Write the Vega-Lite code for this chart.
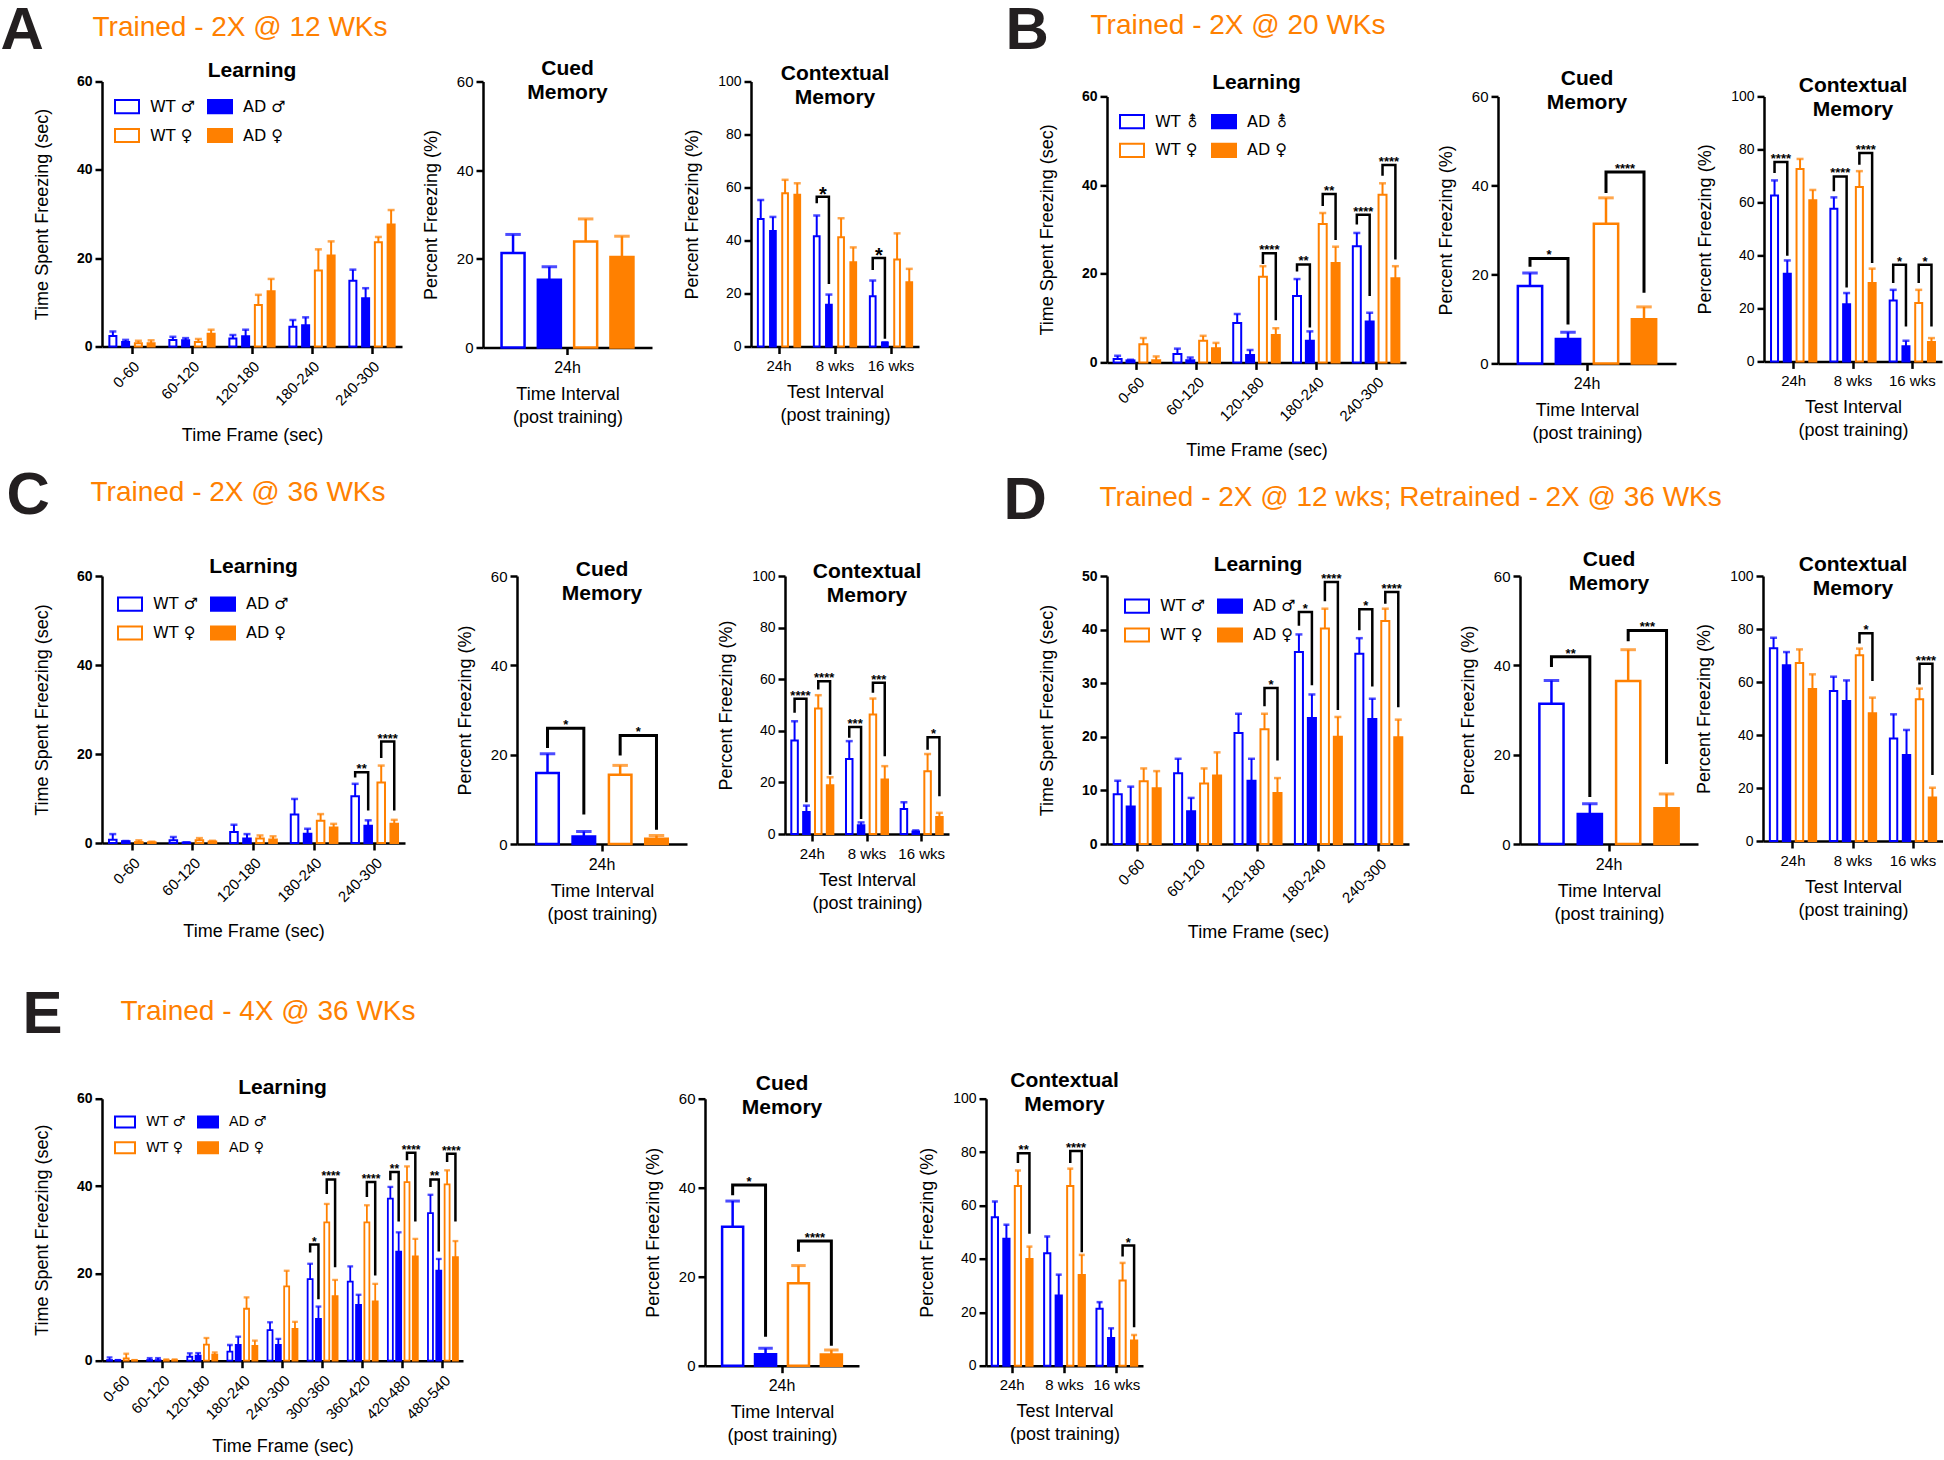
{
"$schema":"https://vega.github.io/schema/vega-lite/v6.json",
"padding":{"left":0,"top":0,"right":0,"bottom":0},
"background":"white",
"datasets":{
"aL":[{"f":"0-60","g":"WTm","v":2.4,"e":3.4},{"f":"0-60","g":"ADm","v":1.0,"e":1.5},{"f":"0-60","g":"WTf","v":0.75,"e":1.3},{"f":"0-60","g":"ADf","v":0.75,"e":1.4},
{"f":"60-120","g":"WTm","v":1.5,"e":2.2},{"f":"60-120","g":"ADm","v":1.4,"e":1.9},{"f":"60-120","g":"WTf","v":1.0,"e":1.7},{"f":"60-120","g":"ADf","v":2.9,"e":3.8},
{"f":"120-180","g":"WTm","v":1.8,"e":2.6},{"f":"120-180","g":"ADm","v":2.3,"e":3.8},{"f":"120-180","g":"WTf","v":9.4,"e":11.7},{"f":"120-180","g":"ADf","v":12.5,"e":15.3},
{"f":"180-240","g":"WTm","v":4.5,"e":6.0},{"f":"180-240","g":"ADm","v":4.8,"e":6.6},{"f":"180-240","g":"WTf","v":17.2,"e":22.0},{"f":"180-240","g":"ADf","v":20.6,"e":23.8},
{"f":"240-300","g":"WTm","v":14.9,"e":17.4},{"f":"240-300","g":"ADm","v":10.9,"e":13.2},{"f":"240-300","g":"WTf","v":23.6,"e":24.8},{"f":"240-300","g":"ADf","v":27.6,"e":30.9}],
"aC":[{"f":"24h","g":"WTm","v":21.3,"e":25.5},{"f":"24h","g":"ADm","v":15.3,"e":18.2},{"f":"24h","g":"WTf","v":23.9,"e":29.0},{"f":"24h","g":"ADf","v":20.4,"e":25.1}],
"aX":[{"f":"24h","g":"WTm","v":48.1,"e":55.3},{"f":"24h","g":"ADm","v":43.6,"e":48.9},{"f":"24h","g":"WTf","v":57.8,"e":62.9},{"f":"24h","g":"ADf","v":57.3,"e":61.6},
{"f":"8 wks","g":"WTm","v":41.6,"e":49.4},{"f":"8 wks","g":"ADm","v":15.8,"e":19.6},{"f":"8 wks","g":"WTf","v":41.2,"e":48.4},{"f":"8 wks","g":"ADf","v":31.8,"e":37.4},
{"f":"16 wks","g":"WTm","v":19.0,"e":24.9},{"f":"16 wks","g":"ADm","v":1.4,"e":1.6},{"f":"16 wks","g":"WTf","v":32.8,"e":42.7},{"f":"16 wks","g":"ADf","v":24.2,"e":29.3}],
"aXb":[{"f":"8 wks","gw":"WTm","g":["WTm","WTm","ADm","ADm"],"y":[54.1,56.5,56.5,23.6],"o":[0,1,2,3],"t":"*","top":56.5},
{"f":"16 wks","gw":"WTm","g":["WTm","WTm","ADm","ADm"],"y":[28.9,33.4,33.4,2.9],"o":[0,1,2,3],"t":"*","top":33.4}],
"bL":[{"f":"0-60","g":"WTm","v":0.75,"e":1.5},{"f":"0-60","g":"ADm","v":0.45,"e":0.6},{"f":"0-60","g":"WTf","v":4.1,"e":5.5},{"f":"0-60","g":"ADf","v":0.5,"e":1.35},
{"f":"60-120","g":"WTm","v":1.9,"e":3.1},{"f":"60-120","g":"ADm","v":0.5,"e":1.1},{"f":"60-120","g":"WTf","v":4.9,"e":6.0},{"f":"60-120","g":"ADf","v":3.2,"e":4.4},
{"f":"120-180","g":"WTm","v":8.9,"e":10.9},{"f":"120-180","g":"ADm","v":1.65,"e":2.8},{"f":"120-180","g":"WTf","v":19.3,"e":21.7},{"f":"120-180","g":"ADf","v":6.2,"e":7.7},
{"f":"180-240","g":"WTm","v":15.0,"e":18.8},{"f":"180-240","g":"ADm","v":4.9,"e":7.0},{"f":"180-240","g":"WTf","v":31.2,"e":33.7},{"f":"180-240","g":"ADf","v":22.4,"e":26.1},
{"f":"240-300","g":"WTm","v":26.2,"e":29.2},{"f":"240-300","g":"ADm","v":9.2,"e":11.2},{"f":"240-300","g":"WTf","v":37.8,"e":40.4},{"f":"240-300","g":"ADf","v":19.0,"e":21.7}],
"bLb":[{"f":"120-180","gw":"WTf","g":["WTf","WTf","ADf","ADf"],"y":[22.2,24.6,24.6,9.5],"o":[0,1,2,3],"t":"****","top":24.6},
{"f":"180-240","gw":"WTm","g":["WTm","WTm","ADm","ADm"],"y":[20.5,22.1,22.1,7.9],"o":[0,1,2,3],"t":"**","top":22.1},
{"f":"180-240","gw":"WTf","g":["WTf","WTf","ADf","ADf"],"y":[35.3,38.0,38.0,27.6],"o":[0,1,2,3],"t":"**","top":38.0},
{"f":"240-300","gw":"WTm","g":["WTm","WTm","ADm","ADm"],"y":[31.1,33.3,33.3,15.0],"o":[0,1,2,3],"t":"****","top":33.3},
{"f":"240-300","gw":"WTf","g":["WTf","WTf","ADf","ADf"],"y":[42.1,44.5,44.5,23.2],"o":[0,1,2,3],"t":"****","top":44.5}],
"bC":[{"f":"24h","g":"WTm","v":17.4,"e":20.3},{"f":"24h","g":"ADm","v":5.5,"e":7.0},{"f":"24h","g":"WTf","v":31.4,"e":37.2},{"f":"24h","g":"ADf","v":9.9,"e":12.7}],
"bCb":[{"f":"24h","gw":"WTm","g":["WTm","WTm","ADm","ADm"],"y":[21.7,23.6,23.6,8.75],"o":[0,1,2,3],"t":"*","top":23.6},
{"f":"24h","gw":"WTf","g":["WTf","WTf","ADf","ADf"],"y":[38.3,43.0,43.0,15.9],"o":[0,1,2,3],"t":"****","top":43.0}],
"bX":[{"f":"24h","g":"WTm","v":62.6,"e":68.3},{"f":"24h","g":"ADm","v":33.1,"e":38.1},{"f":"24h","g":"WTf","v":72.6,"e":76.4},{"f":"24h","g":"ADf","v":60.8,"e":64.7},
{"f":"8 wks","g":"WTm","v":57.6,"e":61.9},{"f":"8 wks","g":"ADm","v":21.6,"e":25.8},{"f":"8 wks","g":"WTf","v":65.8,"e":71.8},{"f":"8 wks","g":"ADf","v":29.6,"e":35.0},
{"f":"16 wks","g":"WTm","v":23.0,"e":27.0},{"f":"16 wks","g":"ADm","v":5.7,"e":7.8},{"f":"16 wks","g":"WTf","v":22.0,"e":27.0},{"f":"16 wks","g":"ADf","v":7.3,"e":8.8}],
"bXb":[{"f":"24h","gw":"WTm","g":["WTm","WTm","ADm","ADm"],"y":[71.1,75.2,75.2,39.9],"o":[0,1,2,3],"t":"****","top":75.2},
{"f":"8 wks","gw":"WTm","g":["WTm","WTm","ADm","ADm"],"y":[64.2,69.8,69.8,27.9],"o":[0,1,2,3],"t":"****","top":69.8},
{"f":"8 wks","gw":"WTf","g":["WTf","WTf","ADf","ADf"],"y":[74.2,78.6,78.6,37.1],"o":[0,1,2,3],"t":"****","top":78.6},
{"f":"16 wks","gw":"WTm","g":["WTm","WTm","ADm","ADm"],"y":[29.6,36.5,36.5,13.2],"o":[0,1,2,3],"t":"*","top":36.5},
{"f":"16 wks","gw":"WTf","g":["WTf","WTf","ADf","ADf"],"y":[29.6,36.5,36.5,13.2],"o":[0,1,2,3],"t":"*","top":36.5}],
"cL":[{"f":"0-60","g":"WTm","v":0.75,"e":2.0},{"f":"0-60","g":"ADm","v":0.4,"e":0.45},{"f":"0-60","g":"WTf","v":0.2,"e":0.6},{"f":"0-60","g":"ADf","v":0.15,"e":0.3},
{"f":"60-120","g":"WTm","v":0.6,"e":1.35},{"f":"60-120","g":"ADm","v":0.1,"e":0.15},{"f":"60-120","g":"WTf","v":0.6,"e":1.1},{"f":"60-120","g":"ADf","v":0.35,"e":0.5},
{"f":"120-180","g":"WTm","v":2.5,"e":4.1},{"f":"120-180","g":"ADm","v":1.0,"e":2.0},{"f":"120-180","g":"WTf","v":1.0,"e":1.7},{"f":"120-180","g":"ADf","v":0.8,"e":1.5},
{"f":"180-240","g":"WTm","v":6.4,"e":9.9},{"f":"180-240","g":"ADm","v":2.1,"e":3.2},{"f":"180-240","g":"WTf","v":5.0,"e":6.5},{"f":"180-240","g":"ADf","v":3.5,"e":4.3},
{"f":"240-300","g":"WTm","v":10.5,"e":13.3},{"f":"240-300","g":"ADm","v":3.9,"e":5.1},{"f":"240-300","g":"WTf","v":13.6,"e":17.4},{"f":"240-300","g":"ADf","v":4.3,"e":5.2}],
"cLb":[{"f":"240-300","gw":"WTm","g":["WTm","WTm","ADm","ADm"],"y":[14.7,15.9,15.9,7.3],"o":[0,1,2,3],"t":"**","top":15.9},
{"f":"240-300","gw":"WTf","g":["WTf","WTf","ADf","ADf"],"y":[19.1,22.8,22.8,7.3],"o":[0,1,2,3],"t":"****","top":22.8}],
"cC":[{"f":"24h","g":"WTm","v":15.9,"e":20.2},{"f":"24h","g":"ADm","v":1.7,"e":2.8},{"f":"24h","g":"WTf","v":15.5,"e":17.6},{"f":"24h","g":"ADf","v":1.2,"e":1.9}],
"cCb":[{"f":"24h","gw":"WTm","g":["WTm","WTm","ADm","ADm"],"y":[21.5,25.9,25.9,6.6],"o":[0,1,2,3],"t":"*","top":25.9},
{"f":"24h","gw":"WTf","g":["WTf","WTf","ADf","ADf"],"y":[19.8,24.3,24.3,3.2],"o":[0,1,2,3],"t":"*","top":24.3}],
"cX":[{"f":"24h","g":"WTm","v":36.2,"e":43.7},{"f":"24h","g":"ADm","v":8.5,"e":11.0},{"f":"24h","g":"WTf","v":48.6,"e":53.8},{"f":"24h","g":"ADf","v":18.9,"e":22.0},
{"f":"8 wks","g":"WTm","v":29.1,"e":36.0},{"f":"8 wks","g":"ADm","v":3.4,"e":4.5},{"f":"8 wks","g":"WTf","v":46.3,"e":52.5},{"f":"8 wks","g":"ADf","v":21.1,"e":26.3},
{"f":"16 wks","g":"WTm","v":9.7,"e":12.3},{"f":"16 wks","g":"ADm","v":1.0,"e":1.4},{"f":"16 wks","g":"WTf","v":24.3,"e":31.0},{"f":"16 wks","g":"ADf","v":6.6,"e":8.2}],
"cXb":[{"f":"24h","gw":"WTm","g":["WTm","WTm","ADm","ADm"],"y":[47.0,52.4,52.4,12.3],"o":[0,1,2,3],"t":"****","top":52.4},
{"f":"24h","gw":"WTf","g":["WTf","WTf","ADf","ADf"],"y":[56.0,59.2,59.2,23.0],"o":[0,1,2,3],"t":"****","top":59.2},
{"f":"8 wks","gw":"WTm","g":["WTm","WTm","ADm","ADm"],"y":[37.3,41.5,41.5,5.8],"o":[0,1,2,3],"t":"***","top":41.5},
{"f":"8 wks","gw":"WTf","g":["WTf","WTf","ADf","ADf"],"y":[54.7,58.6,58.6,30.1],"o":[0,1,2,3],"t":"***","top":58.6},
{"f":"16 wks","gw":"WTf","g":["WTf","WTf","ADf","ADf"],"y":[32.7,37.5,37.5,14.6],"o":[0,1,2,3],"t":"*","top":37.5}],
"dL":[{"f":"0-60","g":"WTm","v":9.3,"e":11.8},{"f":"0-60","g":"ADm","v":7.0,"e":10.7},{"f":"0-60","g":"WTf","v":11.7,"e":14.1},{"f":"0-60","g":"ADf","v":10.4,"e":13.6},
{"f":"60-120","g":"WTm","v":13.2,"e":15.9},{"f":"60-120","g":"ADm","v":6.1,"e":8.6},{"f":"60-120","g":"WTf","v":11.3,"e":14.1},{"f":"60-120","g":"ADf","v":12.8,"e":17.1},
{"f":"120-180","g":"WTm","v":20.7,"e":24.3},{"f":"120-180","g":"ADm","v":11.8,"e":15.9},{"f":"120-180","g":"WTf","v":21.4,"e":24.3},{"f":"120-180","g":"ADf","v":9.5,"e":12.3},
{"f":"180-240","g":"WTm","v":35.8,"e":39.1},{"f":"180-240","g":"ADm","v":23.5,"e":27.9},{"f":"180-240","g":"WTf","v":40.2,"e":43.9},{"f":"180-240","g":"ADf","v":20.0,"e":23.7},
{"f":"240-300","g":"WTm","v":35.5,"e":38.4},{"f":"240-300","g":"ADm","v":23.3,"e":27.1},{"f":"240-300","g":"WTf","v":41.6,"e":43.9},{"f":"240-300","g":"ADf","v":19.9,"e":23.2}],
"dLb":[{"f":"120-180","gw":"WTf","g":["WTf","WTf","ADf","ADf"],"y":[25.7,29.1,29.1,15.6],"o":[0,1,2,3],"t":"*","top":29.1},
{"f":"180-240","gw":"WTm","g":["WTm","WTm","ADm","ADm"],"y":[40.7,43.3,43.3,29.6],"o":[0,1,2,3],"t":"*","top":43.3},
{"f":"180-240","gw":"WTf","g":["WTf","WTf","ADf","ADf"],"y":[45.3,48.9,48.9,25.0],"o":[0,1,2,3],"t":"****","top":48.9},
{"f":"240-300","gw":"WTm","g":["WTm","WTm","ADm","ADm"],"y":[39.9,43.8,43.8,29.4],"o":[0,1,2,3],"t":"*","top":43.8},
{"f":"240-300","gw":"WTf","g":["WTf","WTf","ADf","ADf"],"y":[44.8,47.0,47.0,25.5],"o":[0,1,2,3],"t":"****","top":47.0}],
"dC":[{"f":"24h","g":"WTm","v":31.4,"e":36.6},{"f":"24h","g":"ADm","v":6.7,"e":9.0},{"f":"24h","g":"WTf","v":36.5,"e":43.5},{"f":"24h","g":"ADf","v":8.0,"e":11.2}],
"dCb":[{"f":"24h","gw":"WTm","g":["WTm","WTm","ADm","ADm"],"y":[39.6,41.9,41.9,10.5],"o":[0,1,2,3],"t":"**","top":41.9},
{"f":"24h","gw":"WTf","g":["WTf","WTf","ADf","ADf"],"y":[45.4,47.8,47.8,17.9],"o":[0,1,2,3],"t":"***","top":47.8}],
"dX":[{"f":"24h","g":"WTm","v":72.7,"e":76.7},{"f":"24h","g":"ADm","v":66.3,"e":71.3},{"f":"24h","g":"WTf","v":67.2,"e":72.3},{"f":"24h","g":"ADf","v":57.4,"e":62.9},
{"f":"8 wks","g":"WTm","v":56.6,"e":62.0},{"f":"8 wks","g":"ADm","v":52.8,"e":60.6},{"f":"8 wks","g":"WTf","v":70.1,"e":72.6},{"f":"8 wks","g":"ADf","v":48.2,"e":54.1},
{"f":"16 wks","g":"WTm","v":38.7,"e":47.8},{"f":"16 wks","g":"ADm","v":32.5,"e":41.9},{"f":"16 wks","g":"WTf","v":53.5,"e":57.5},{"f":"16 wks","g":"ADf","v":16.4,"e":20.1}],
"dXb":[{"f":"8 wks","gw":"WTf","g":["WTf","WTf","ADf","ADf"],"y":[74.5,78.4,78.4,60.4],"o":[0,1,2,3],"t":"*","top":78.4},
{"f":"16 wks","gw":"WTf","g":["WTf","WTf","ADf","ADf"],"y":[59.1,66.9,66.9,24.9],"o":[0,1,2,3],"t":"****","top":66.9}],
"eL":[{"f":"0-60","g":"WTm","v":0.15,"e":0.75},{"f":"0-60","g":"ADm","v":0.1,"e":0.15},{"f":"0-60","g":"WTf","v":0.55,"e":1.6},{"f":"0-60","g":"ADf","v":0.1,"e":0.15},
{"f":"60-120","g":"WTm","v":0.15,"e":0.6},{"f":"60-120","g":"ADm","v":0.15,"e":0.6},{"f":"60-120","g":"WTf","v":0.1,"e":0.3},{"f":"60-120","g":"ADf","v":0.1,"e":0.3},
{"f":"120-180","g":"WTm","v":0.9,"e":1.7},{"f":"120-180","g":"ADm","v":1.15,"e":1.75},{"f":"120-180","g":"WTf","v":3.7,"e":5.2},{"f":"120-180","g":"ADf","v":1.4,"e":1.9},
{"f":"180-240","g":"WTm","v":2.1,"e":3.6},{"f":"180-240","g":"ADm","v":3.6,"e":5.5},{"f":"180-240","g":"WTf","v":11.9,"e":14.5},{"f":"180-240","g":"ADf","v":3.4,"e":4.6},
{"f":"240-300","g":"WTm","v":7.0,"e":8.8},{"f":"240-300","g":"ADm","v":3.6,"e":5.0},{"f":"240-300","g":"WTf","v":17.0,"e":20.6},{"f":"240-300","g":"ADf","v":7.3,"e":8.9},
{"f":"300-360","g":"WTm","v":18.7,"e":22.2},{"f":"300-360","g":"ADm","v":9.6,"e":12.4},{"f":"300-360","g":"WTf","v":31.7,"e":35.9},{"f":"300-360","g":"ADf","v":14.8,"e":18.5},
{"f":"360-420","g":"WTm","v":18.1,"e":21.6},{"f":"360-420","g":"ADm","v":12.8,"e":15.1},{"f":"360-420","g":"WTf","v":31.7,"e":35.6},{"f":"360-420","g":"ADf","v":13.6,"e":17.6},
{"f":"420-480","g":"WTm","v":37.1,"e":39.8},{"f":"420-480","g":"ADm","v":25.0,"e":29.4},{"f":"420-480","g":"WTf","v":40.9,"e":44.5},{"f":"420-480","g":"ADf","v":23.9,"e":27.9},
{"f":"480-540","g":"WTm","v":33.8,"e":38.0},{"f":"480-540","g":"ADm","v":20.6,"e":23.3},{"f":"480-540","g":"WTf","v":40.4,"e":43.6},{"f":"480-540","g":"ADf","v":23.7,"e":27.4}],
"eLb":[{"f":"300-360","gw":"WTm","g":["WTm","WTm","ADm","ADm"],"y":[24.8,26.6,26.6,14.1],"o":[0,1,2,3],"t":"*","top":26.6},
{"f":"300-360","gw":"WTf","g":["WTf","WTf","ADf","ADf"],"y":[38.2,41.5,41.5,21.4],"o":[0,1,2,3],"t":"****","top":41.5},
{"f":"360-420","gw":"WTf","g":["WTf","WTf","ADf","ADf"],"y":[37.5,40.9,40.9,19.5],"o":[0,1,2,3],"t":"****","top":40.9},
{"f":"420-480","gw":"WTm","g":["WTm","WTm","ADm","ADm"],"y":[41.3,43.2,43.2,31.9],"o":[0,1,2,3],"t":"**","top":43.2},
{"f":"420-480","gw":"WTf","g":["WTf","WTf","ADf","ADf"],"y":[45.9,47.6,47.6,31.9],"o":[0,1,2,3],"t":"****","top":47.6},
{"f":"480-540","gw":"WTm","g":["WTm","WTm","ADm","ADm"],"y":[39.8,41.5,41.5,25.0],"o":[0,1,2,3],"t":"**","top":41.5},
{"f":"480-540","gw":"WTf","g":["WTf","WTf","ADf","ADf"],"y":[45.5,47.4,47.4,31.9],"o":[0,1,2,3],"t":"****","top":47.4}],
"eC":[{"f":"24h","g":"WTm","v":31.2,"e":37.0},{"f":"24h","g":"ADm","v":2.6,"e":3.9},{"f":"24h","g":"WTf","v":18.5,"e":22.5},{"f":"24h","g":"ADf","v":2.5,"e":3.5}],
"eCb":[{"f":"24h","gw":"WTm","g":["WTm","WTm","ADm","ADm"],"y":[38.3,40.6,40.6,6.5],"o":[0,1,2,3],"t":"*","top":40.6},
{"f":"24h","gw":"WTf","g":["WTf","WTf","ADf","ADf"],"y":[25.6,28.0,28.0,4.5],"o":[0,1,2,3],"t":"****","top":28.0}],
"eX":[{"f":"24h","g":"WTm","v":55.6,"e":61.5},{"f":"24h","g":"ADm","v":47.5,"e":52.8},{"f":"24h","g":"WTf","v":67.3,"e":73.1},{"f":"24h","g":"ADf","v":40.0,"e":44.6},
{"f":"8 wks","g":"WTm","v":42.1,"e":48.4},{"f":"8 wks","g":"ADm","v":26.3,"e":34.1},{"f":"8 wks","g":"WTf","v":67.3,"e":73.8},{"f":"8 wks","g":"ADf","v":34.0,"e":41.5},
{"f":"16 wks","g":"WTm","v":21.3,"e":23.8},{"f":"16 wks","g":"ADm","v":10.4,"e":14.0},{"f":"16 wks","g":"WTf","v":31.9,"e":38.5},{"f":"16 wks","g":"ADf","v":9.4,"e":11.5}],
"eXb":[{"f":"24h","gw":"WTf","g":["WTf","WTf","ADf","ADf"],"y":[75.9,79.6,79.6,49.4],"o":[0,1,2,3],"t":"**","top":79.6},
{"f":"8 wks","gw":"WTf","g":["WTf","WTf","ADf","ADf"],"y":[75.9,80.4,80.4,42.5],"o":[0,1,2,3],"t":"****","top":80.4},
{"f":"16 wks","gw":"WTf","g":["WTf","WTf","ADf","ADf"],"y":[40.9,45.0,45.0,14.4],"o":[0,1,2,3],"t":"*","top":45.0}]
},
"vconcat":[
{"vconcat":[
{"hconcat":[
{"vconcat":[
{"width":1,"height":1,"layer":[
{"data":{"values":[{"t":"A"}]},"mark":{"type":"text","align":"left","baseline":"middle","dx":-102,"fontSize":60,"fontWeight":"bold","color":"#231f20"},"encoding":{"text":{"field":"t","type":"nominal"}}},
{"data":{"values":[{"t":"Trained - 2X @ 12 WKs"}]},"mark":{"type":"text","align":"left","baseline":"middle","dx":-10,"dy":-3,"fontSize":28,"color":"#ff8000"},"encoding":{"text":{"field":"t","type":"nominal"}}}]},
{"hconcat":[
{"width":300,"height":265,"title":{"text":"Learning","offset":-6.5},
"encoding":{"x":{"field":"f","type":"nominal","scale":{"domain":["0-60","60-120","120-180","180-240","240-300"],"paddingInner":0.15,"paddingOuter":0.075},"axis":{"title":"Time Frame (sec)","labelAngle":-45,"titlePadding":18}},
"xOffset":{"field":"g","type":"nominal","scale":{"domain":["WTm","ADm","WTf","ADf"],"paddingInner":0.45,"paddingOuter":0.225}}},
"layer":[
{"data":{"name":"aL"},"mark":{"type":"bar","strokeWidth":2},"encoding":{"y":{"field":"v","type":"quantitative","scale":{"domain":[0,60],"nice":false},"axis":{"values":[0,20,40,60],"title":"Time Spent Freezing (sec)","labelFontWeight":"bold","labelFontSize":14,"titlePadding":25}},
"fill":{"field":"g","type":"nominal","scale":{"domain":["WTm","ADm","WTf","ADf"],"range":["white","#0000ff","white","#ff8000"]},"legend":{"title":null,"offset":12,"labelExpr":"datum.label=='WTm'?'WT ♂':datum.label=='ADm'?'AD ♂':datum.label=='WTf'?'WT ♀':'AD ♀'"}},
"stroke":{"field":"g","type":"nominal","scale":{"domain":["WTm","ADm","WTf","ADf"],"range":["#0000ff","#0000ff","#ff8000","#ff8000"]},"legend":{"title":null,"offset":12,"labelExpr":"datum.label=='WTm'?'WT ♂':datum.label=='ADm'?'AD ♂':datum.label=='WTf'?'WT ♀':'AD ♀'"}}}},
{"data":{"name":"aL"},"mark":{"type":"rule","strokeWidth":2},"encoding":{"y":{"field":"v","type":"quantitative","title":"Time Spent Freezing (sec)"},"y2":{"field":"e"},"stroke":{"field":"g","type":"nominal","legend":{"title":null,"offset":12,"labelExpr":"datum.label=='WTm'?'WT ♂':datum.label=='ADm'?'AD ♂':datum.label=='WTf'?'WT ♀':'AD ♀'"}}}},
{"data":{"name":"aL"},"mark":{"type":"tick","filled":false,"size":5,"thickness":0.5,"strokeWidth":2},"encoding":{"y":{"field":"e","type":"quantitative","title":"Time Spent Freezing (sec)"},"stroke":{"field":"g","type":"nominal","legend":{"title":null,"offset":12,"labelExpr":"datum.label=='WTm'?'WT ♂':datum.label=='ADm'?'AD ♂':datum.label=='WTf'?'WT ♀':'AD ♀'"}}}}
]},
{"hconcat":[
{"width":169,"height":266,"title":{"text":["Cued","Memory"],"offset":-28},
"encoding":{"x":{"field":"f","type":"nominal","scale":{"domain":["24h"],"paddingInner":0,"paddingOuter":0.082},"axis":{"title":["Time Interval","(post training)"],"labelAngle":0,"labelFontSize":16}},
"xOffset":{"field":"g","type":"nominal","scale":{"domain":["WTm","ADm","WTf","ADf"],"paddingInner":0.366,"paddingOuter":0.183}}},
"layer":[
{"data":{"name":"aC"},"mark":{"type":"bar","strokeWidth":2.5},"encoding":{"y":{"field":"v","type":"quantitative","scale":{"domain":[0,60],"nice":false},"axis":{"values":[0,20,40,60],"title":"Percent Freezing (%)"}},
"fill":{"field":"g","type":"nominal","scale":{"domain":["WTm","ADm","WTf","ADf"],"range":["white","#0000ff","white","#ff8000"]},"legend":null},
"stroke":{"field":"g","type":"nominal","scale":{"domain":["WTm","ADm","WTf","ADf"],"range":["#0000ff","#0000ff","#ff8000","#ff8000"]},"legend":null}}},
{"data":{"name":"aC"},"mark":{"type":"rule","strokeWidth":2.5},"encoding":{"y":{"field":"v","type":"quantitative","title":"Percent Freezing (%)"},"y2":{"field":"e"},"stroke":{"field":"g","type":"nominal","legend":null}}},
{"data":{"name":"aC"},"mark":{"type":"tick","filled":false,"size":13,"thickness":0.5,"strokeWidth":2.5},"encoding":{"y":{"field":"e","type":"quantitative","title":"Percent Freezing (%)"},"stroke":{"field":"g","type":"nominal","legend":null}}}
]},
{"width":168,"height":265,"title":{"text":["Contextual","Memory"],"offset":-33},
"encoding":{"x":{"field":"f","type":"nominal","scale":{"domain":["24h","8 wks","16 wks"],"paddingInner":0.13,"paddingOuter":0.065},"axis":{"title":["Test Interval","(post training)"],"labelAngle":0}},
"xOffset":{"field":"g","type":"nominal","scale":{"domain":["WTm","ADm","WTf","ADf"],"paddingInner":0.53,"paddingOuter":0.265}}},
"layer":[
{"data":{"name":"aX"},"mark":{"type":"bar","strokeWidth":2},"encoding":{"y":{"field":"v","type":"quantitative","scale":{"domain":[0,100],"nice":false},"axis":{"values":[0,20,40,60,80,100],"title":"Percent Freezing (%)","labelFontSize":14}},
"fill":{"field":"g","type":"nominal","scale":{"domain":["WTm","ADm","WTf","ADf"],"range":["white","#0000ff","white","#ff8000"]},"legend":null},
"stroke":{"field":"g","type":"nominal","scale":{"domain":["WTm","ADm","WTf","ADf"],"range":["#0000ff","#0000ff","#ff8000","#ff8000"]},"legend":null}}},
{"data":{"name":"aX"},"mark":{"type":"rule","strokeWidth":2},"encoding":{"y":{"field":"v","type":"quantitative","title":"Percent Freezing (%)"},"y2":{"field":"e"},"stroke":{"field":"g","type":"nominal","legend":null}}},
{"data":{"name":"aX"},"mark":{"type":"tick","filled":false,"size":5,"thickness":0.5,"strokeWidth":2},"encoding":{"y":{"field":"e","type":"quantitative","title":"Percent Freezing (%)"},"stroke":{"field":"g","type":"nominal","legend":null}}},
{"data":{"name":"aXb"},"transform":[{"flatten":["g","y","o"]}],"mark":{"type":"line","color":"black","strokeWidth":2.5},"encoding":{"y":{"field":"y","type":"quantitative","title":"Percent Freezing (%)"},"detail":[{"field":"f","type":"nominal"},{"field":"gw","type":"nominal"}],"order":{"field":"o","type":"quantitative"}}},
{"data":{"name":"aXb"},"mark":{"type":"text","dx":6.1,"dy":4,"baseline":"alphabetic","fontSize":20,"fontWeight":"bold"},"encoding":{"xOffset":{"field":"gw","type":"nominal"},"y":{"field":"top","type":"quantitative","title":"Percent Freezing (%)"},"text":{"field":"t"}}}
]}
],"spacing":31,"resolve":{"scale":{"fill":"independent","stroke":"independent","xOffset":"independent"},"legend":{"fill":"independent","stroke":"independent"}}}
],"spacing":20,"resolve":{"scale":{"fill":"independent","stroke":"independent","xOffset":"independent"},"legend":{"fill":"independent","stroke":"independent"}}}
],"spacing":-3.5,"resolve":{"scale":{"fill":"independent","stroke":"independent","xOffset":"independent"},"legend":{"fill":"independent","stroke":"independent"}}},

{"vconcat":[
{"width":1,"height":1,"layer":[
{"data":{"values":[{"t":"B"}]},"mark":{"type":"text","align":"left","baseline":"middle","dx":-102,"fontSize":60,"fontWeight":"bold","color":"#231f20"},"encoding":{"text":{"field":"t","type":"nominal"}}},
{"data":{"values":[{"t":"Trained - 2X @ 20 WKs"}]},"mark":{"type":"text","align":"left","baseline":"middle","dx":-17,"dy":-5,"fontSize":28,"color":"#ff8000"},"encoding":{"text":{"field":"t","type":"nominal"}}}]},
{"hconcat":[
{"width":299,"height":266,"title":{"text":"Learning","offset":-4},
"encoding":{"x":{"field":"f","type":"nominal","scale":{"domain":["0-60","60-120","120-180","180-240","240-300"],"paddingInner":0.14,"paddingOuter":0.07},"axis":{"title":"Time Frame (sec)","labelAngle":-45,"titlePadding":18}},
"xOffset":{"field":"g","type":"nominal","scale":{"domain":["WTm","ADm","WTf","ADf"],"paddingInner":0.38,"paddingOuter":0.19}}},
"layer":[
{"data":{"name":"bL"},"mark":{"type":"bar","strokeWidth":2},"encoding":{"y":{"field":"v","type":"quantitative","scale":{"domain":[0,60],"nice":false},"axis":{"values":[0,20,40,60],"title":"Time Spent Freezing (sec)","labelFontWeight":"bold","labelFontSize":14,"titlePadding":25}},
"fill":{"field":"g","type":"nominal","scale":{"domain":["WTm","ADm","WTf","ADf"],"range":["white","#0000ff","white","#ff8000"]},"legend":{"title":null,"offset":12,"labelExpr":"datum.label=='WTm'?'WT ⚨':datum.label=='ADm'?'AD ⚨':datum.label=='WTf'?'WT ♀':'AD ♀'"}},
"stroke":{"field":"g","type":"nominal","scale":{"domain":["WTm","ADm","WTf","ADf"],"range":["#0000ff","#0000ff","#ff8000","#ff8000"]},"legend":{"title":null,"offset":12,"labelExpr":"datum.label=='WTm'?'WT ⚨':datum.label=='ADm'?'AD ⚨':datum.label=='WTf'?'WT ♀':'AD ♀'"}}}},
{"data":{"name":"bL"},"mark":{"type":"rule","strokeWidth":2},"encoding":{"y":{"field":"v","type":"quantitative","title":"Time Spent Freezing (sec)"},"y2":{"field":"e"},"stroke":{"field":"g","type":"nominal","legend":{"title":null,"offset":12,"labelExpr":"datum.label=='WTm'?'WT ⚨':datum.label=='ADm'?'AD ⚨':datum.label=='WTf'?'WT ♀':'AD ♀'"}}}},
{"data":{"name":"bL"},"mark":{"type":"tick","filled":false,"size":5,"thickness":0.5,"strokeWidth":2},"encoding":{"y":{"field":"e","type":"quantitative","title":"Time Spent Freezing (sec)"},"stroke":{"field":"g","type":"nominal","legend":{"title":null,"offset":12,"labelExpr":"datum.label=='WTm'?'WT ⚨':datum.label=='ADm'?'AD ⚨':datum.label=='WTf'?'WT ♀':'AD ♀'"}}}},
{"data":{"name":"bLb"},"transform":[{"flatten":["g","y","o"]}],"mark":{"type":"line","color":"black","strokeWidth":2.5},"encoding":{"y":{"field":"y","type":"quantitative","title":"Time Spent Freezing (sec)"},"detail":[{"field":"f","type":"nominal"},{"field":"gw","type":"nominal"}],"order":{"field":"o","type":"quantitative"}}},
{"data":{"name":"bLb"},"mark":{"type":"text","dx":6.45,"dy":1,"baseline":"alphabetic","fontSize":13,"fontWeight":"bold"},"encoding":{"xOffset":{"field":"gw","type":"nominal"},"y":{"field":"top","type":"quantitative","title":"Time Spent Freezing (sec)"},"text":{"field":"t"}}}
]},
{"hconcat":[
{"width":178,"height":267,"title":{"text":["Cued","Memory"],"offset":-23.5},
"encoding":{"x":{"field":"f","type":"nominal","scale":{"domain":["24h"],"paddingInner":0,"paddingOuter":0.0855},"axis":{"title":["Time Interval","(post training)"],"labelAngle":0,"labelFontSize":16}},
"xOffset":{"field":"g","type":"nominal","scale":{"domain":["WTm","ADm","WTf","ADf"],"paddingInner":0.36,"paddingOuter":0.18}}},
"layer":[
{"data":{"name":"bC"},"mark":{"type":"bar","strokeWidth":2.5},"encoding":{"y":{"field":"v","type":"quantitative","scale":{"domain":[0,60],"nice":false},"axis":{"values":[0,20,40,60],"title":"Percent Freezing (%)"}},
"fill":{"field":"g","type":"nominal","scale":{"domain":["WTm","ADm","WTf","ADf"],"range":["white","#0000ff","white","#ff8000"]},"legend":null},
"stroke":{"field":"g","type":"nominal","scale":{"domain":["WTm","ADm","WTf","ADf"],"range":["#0000ff","#0000ff","#ff8000","#ff8000"]},"legend":null}}},
{"data":{"name":"bC"},"mark":{"type":"rule","strokeWidth":2.5},"encoding":{"y":{"field":"v","type":"quantitative","title":"Percent Freezing (%)"},"y2":{"field":"e"},"stroke":{"field":"g","type":"nominal","legend":null}}},
{"data":{"name":"bC"},"mark":{"type":"tick","filled":false,"size":13,"thickness":0.5,"strokeWidth":2.5},"encoding":{"y":{"field":"e","type":"quantitative","title":"Percent Freezing (%)"},"stroke":{"field":"g","type":"nominal","legend":null}}},
{"data":{"name":"bCb"},"transform":[{"flatten":["g","y","o"]}],"mark":{"type":"line","color":"black","strokeWidth":3},"encoding":{"y":{"field":"y","type":"quantitative","title":"Percent Freezing (%)"},"detail":[{"field":"f","type":"nominal"},{"field":"gw","type":"nominal"}],"order":{"field":"o","type":"quantitative"}}},
{"data":{"name":"bCb"},"mark":{"type":"text","dx":19,"dy":1,"baseline":"alphabetic","fontSize":13,"fontWeight":"bold"},"encoding":{"xOffset":{"field":"gw","type":"nominal"},"y":{"field":"top","type":"quantitative","title":"Percent Freezing (%)"},"text":{"field":"t"}}}
]},
{"width":178,"height":265,"title":{"text":["Contextual","Memory"],"offset":-30.5},
"encoding":{"x":{"field":"f","type":"nominal","scale":{"domain":["24h","8 wks","16 wks"],"paddingInner":0.14,"paddingOuter":0.07},"axis":{"title":["Test Interval","(post training)"],"labelAngle":0}},
"xOffset":{"field":"g","type":"nominal","scale":{"domain":["WTm","ADm","WTf","ADf"],"paddingInner":0.45,"paddingOuter":0.225}}},
"layer":[
{"data":{"name":"bX"},"mark":{"type":"bar","strokeWidth":2},"encoding":{"y":{"field":"v","type":"quantitative","scale":{"domain":[0,100],"nice":false},"axis":{"values":[0,20,40,60,80,100],"title":"Percent Freezing (%)","labelFontSize":14}},
"fill":{"field":"g","type":"nominal","scale":{"domain":["WTm","ADm","WTf","ADf"],"range":["white","#0000ff","white","#ff8000"]},"legend":null},
"stroke":{"field":"g","type":"nominal","scale":{"domain":["WTm","ADm","WTf","ADf"],"range":["#0000ff","#0000ff","#ff8000","#ff8000"]},"legend":null}}},
{"data":{"name":"bX"},"mark":{"type":"rule","strokeWidth":2},"encoding":{"y":{"field":"v","type":"quantitative","title":"Percent Freezing (%)"},"y2":{"field":"e"},"stroke":{"field":"g","type":"nominal","legend":null}}},
{"data":{"name":"bX"},"mark":{"type":"tick","filled":false,"size":5,"thickness":0.5,"strokeWidth":2},"encoding":{"y":{"field":"e","type":"quantitative","title":"Percent Freezing (%)"},"stroke":{"field":"g","type":"nominal","legend":null}}},
{"data":{"name":"bXb"},"transform":[{"flatten":["g","y","o"]}],"mark":{"type":"line","color":"black","strokeWidth":2.5},"encoding":{"y":{"field":"y","type":"quantitative","title":"Percent Freezing (%)"},"detail":[{"field":"f","type":"nominal"},{"field":"gw","type":"nominal"}],"order":{"field":"o","type":"quantitative"}}},
{"data":{"name":"bXb"},"mark":{"type":"text","dx":6.4,"dy":1,"baseline":"alphabetic","fontSize":13,"fontWeight":"bold"},"encoding":{"xOffset":{"field":"gw","type":"nominal"},"y":{"field":"top","type":"quantitative","title":"Percent Freezing (%)"},"text":{"field":"t"}}}
]}
],"spacing":20,"resolve":{"scale":{"fill":"independent","stroke":"independent","xOffset":"independent"},"legend":{"fill":"independent","stroke":"independent"}}}
],"spacing":31,"resolve":{"scale":{"fill":"independent","stroke":"independent","xOffset":"independent"},"legend":{"fill":"independent","stroke":"independent"}}}
],"spacing":6.4,"resolve":{"scale":{"fill":"independent","stroke":"independent","xOffset":"independent"},"legend":{"fill":"independent","stroke":"independent"}}}
],"spacing":86,"resolve":{"scale":{"fill":"independent","stroke":"independent","xOffset":"independent"},"legend":{"fill":"independent","stroke":"independent"}}},

{"hconcat":[
{"vconcat":[
{"width":1,"height":1,"layer":[
{"data":{"values":[{"t":"C"}]},"mark":{"type":"text","align":"left","baseline":"middle","dx":-96,"fontSize":60,"fontWeight":"bold","color":"#231f20"},"encoding":{"text":{"field":"t","type":"nominal"}}},
{"data":{"values":[{"t":"Trained - 2X @ 36 WKs"}]},"mark":{"type":"text","align":"left","baseline":"middle","dx":-12,"dy":-3,"fontSize":28,"color":"#ff8000"},"encoding":{"text":{"field":"t","type":"nominal"}}}]},
{"hconcat":[
{"width":303,"height":267,"title":{"text":"Learning","offset":-8},
"encoding":{"x":{"field":"f","type":"nominal","scale":{"domain":["0-60","60-120","120-180","180-240","240-300"],"paddingInner":0.14,"paddingOuter":0.07},"axis":{"title":"Time Frame (sec)","labelAngle":-45,"titlePadding":18}},
"xOffset":{"field":"g","type":"nominal","scale":{"domain":["WTm","ADm","WTf","ADf"],"paddingInner":0.42,"paddingOuter":0.21}}},
"layer":[
{"data":{"name":"cL"},"mark":{"type":"bar","strokeWidth":2},"encoding":{"y":{"field":"v","type":"quantitative","scale":{"domain":[0,60],"nice":false},"axis":{"values":[0,20,40,60],"title":"Time Spent Freezing (sec)","labelFontWeight":"bold","labelFontSize":14,"titlePadding":25}},
"fill":{"field":"g","type":"nominal","scale":{"domain":["WTm","ADm","WTf","ADf"],"range":["white","#0000ff","white","#ff8000"]},"legend":{"title":null,"offset":15,"labelExpr":"datum.label=='WTm'?'WT ♂':datum.label=='ADm'?'AD ♂':datum.label=='WTf'?'WT ♀':'AD ♀'"}},
"stroke":{"field":"g","type":"nominal","scale":{"domain":["WTm","ADm","WTf","ADf"],"range":["#0000ff","#0000ff","#ff8000","#ff8000"]},"legend":{"title":null,"offset":15,"labelExpr":"datum.label=='WTm'?'WT ♂':datum.label=='ADm'?'AD ♂':datum.label=='WTf'?'WT ♀':'AD ♀'"}}}},
{"data":{"name":"cL"},"mark":{"type":"rule","strokeWidth":2},"encoding":{"y":{"field":"v","type":"quantitative","title":"Time Spent Freezing (sec)"},"y2":{"field":"e"},"stroke":{"field":"g","type":"nominal","legend":{"title":null,"offset":15,"labelExpr":"datum.label=='WTm'?'WT ♂':datum.label=='ADm'?'AD ♂':datum.label=='WTf'?'WT ♀':'AD ♀'"}}}},
{"data":{"name":"cL"},"mark":{"type":"tick","filled":false,"size":5,"thickness":0.5,"strokeWidth":2},"encoding":{"y":{"field":"e","type":"quantitative","title":"Time Spent Freezing (sec)"},"stroke":{"field":"g","type":"nominal","legend":{"title":null,"offset":15,"labelExpr":"datum.label=='WTm'?'WT ♂':datum.label=='ADm'?'AD ♂':datum.label=='WTf'?'WT ♀':'AD ♀'"}}}},
{"data":{"name":"cLb"},"transform":[{"flatten":["g","y","o"]}],"mark":{"type":"line","color":"black","strokeWidth":2.5},"encoding":{"y":{"field":"y","type":"quantitative","title":"Time Spent Freezing (sec)"},"detail":[{"field":"f","type":"nominal"},{"field":"gw","type":"nominal"}],"order":{"field":"o","type":"quantitative"}}},
{"data":{"name":"cLb"},"mark":{"type":"text","dx":6.5,"dy":1,"baseline":"alphabetic","fontSize":13,"fontWeight":"bold"},"encoding":{"xOffset":{"field":"gw","type":"nominal"},"y":{"field":"top","type":"quantitative","title":"Time Spent Freezing (sec)"},"text":{"field":"t"}}}
]},
{"hconcat":[
{"width":170,"height":268,"title":{"text":["Cued","Memory"],"offset":-35},
"encoding":{"x":{"field":"f","type":"nominal","scale":{"domain":["24h"],"paddingInner":0,"paddingOuter":0.085},"axis":{"title":["Time Interval","(post training)"],"labelAngle":0,"labelFontSize":16}},
"xOffset":{"field":"g","type":"nominal","scale":{"domain":["WTm","ADm","WTf","ADf"],"paddingInner":0.38,"paddingOuter":0.19}}},
"layer":[
{"data":{"name":"cC"},"mark":{"type":"bar","strokeWidth":2.5},"encoding":{"y":{"field":"v","type":"quantitative","scale":{"domain":[0,60],"nice":false},"axis":{"values":[0,20,40,60],"title":"Percent Freezing (%)"}},
"fill":{"field":"g","type":"nominal","scale":{"domain":["WTm","ADm","WTf","ADf"],"range":["white","#0000ff","white","#ff8000"]},"legend":null},
"stroke":{"field":"g","type":"nominal","scale":{"domain":["WTm","ADm","WTf","ADf"],"range":["#0000ff","#0000ff","#ff8000","#ff8000"]},"legend":null}}},
{"data":{"name":"cC"},"mark":{"type":"rule","strokeWidth":2.5},"encoding":{"y":{"field":"v","type":"quantitative","title":"Percent Freezing (%)"},"y2":{"field":"e"},"stroke":{"field":"g","type":"nominal","legend":null}}},
{"data":{"name":"cC"},"mark":{"type":"tick","filled":false,"size":13,"thickness":0.5,"strokeWidth":2.5},"encoding":{"y":{"field":"e","type":"quantitative","title":"Percent Freezing (%)"},"stroke":{"field":"g","type":"nominal","legend":null}}},
{"data":{"name":"cCb"},"transform":[{"flatten":["g","y","o"]}],"mark":{"type":"line","color":"black","strokeWidth":3},"encoding":{"y":{"field":"y","type":"quantitative","title":"Percent Freezing (%)"},"detail":[{"field":"f","type":"nominal"},{"field":"gw","type":"nominal"}],"order":{"field":"o","type":"quantitative"}}},
{"data":{"name":"cCb"},"mark":{"type":"text","dx":18.2,"dy":1,"baseline":"alphabetic","fontSize":13,"fontWeight":"bold"},"encoding":{"xOffset":{"field":"gw","type":"nominal"},"y":{"field":"top","type":"quantitative","title":"Percent Freezing (%)"},"text":{"field":"t"}}}
]},
{"width":164,"height":258,"title":{"text":["Contextual","Memory"],"offset":-36.5},
"encoding":{"x":{"field":"f","type":"nominal","scale":{"domain":["24h","8 wks","16 wks"],"paddingInner":0.134,"paddingOuter":0.067},"axis":{"title":["Test Interval","(post training)"],"labelAngle":0}},
"xOffset":{"field":"g","type":"nominal","scale":{"domain":["WTm","ADm","WTf","ADf"],"paddingInner":0.45,"paddingOuter":0.225}}},
"layer":[
{"data":{"name":"cX"},"mark":{"type":"bar","strokeWidth":2},"encoding":{"y":{"field":"v","type":"quantitative","scale":{"domain":[0,100],"nice":false},"axis":{"values":[0,20,40,60,80,100],"title":"Percent Freezing (%)","labelFontSize":14}},
"fill":{"field":"g","type":"nominal","scale":{"domain":["WTm","ADm","WTf","ADf"],"range":["white","#0000ff","white","#ff8000"]},"legend":null},
"stroke":{"field":"g","type":"nominal","scale":{"domain":["WTm","ADm","WTf","ADf"],"range":["#0000ff","#0000ff","#ff8000","#ff8000"]},"legend":null}}},
{"data":{"name":"cX"},"mark":{"type":"rule","strokeWidth":2},"encoding":{"y":{"field":"v","type":"quantitative","title":"Percent Freezing (%)"},"y2":{"field":"e"},"stroke":{"field":"g","type":"nominal","legend":null}}},
{"data":{"name":"cX"},"mark":{"type":"tick","filled":false,"size":5,"thickness":0.5,"strokeWidth":2},"encoding":{"y":{"field":"e","type":"quantitative","title":"Percent Freezing (%)"},"stroke":{"field":"g","type":"nominal","legend":null}}},
{"data":{"name":"cXb"},"transform":[{"flatten":["g","y","o"]}],"mark":{"type":"line","color":"black","strokeWidth":2.5},"encoding":{"y":{"field":"y","type":"quantitative","title":"Percent Freezing (%)"},"detail":[{"field":"f","type":"nominal"},{"field":"gw","type":"nominal"}],"order":{"field":"o","type":"quantitative"}}},
{"data":{"name":"cXb"},"mark":{"type":"text","dx":5.9,"dy":1,"baseline":"alphabetic","fontSize":13,"fontWeight":"bold"},"encoding":{"xOffset":{"field":"gw","type":"nominal"},"y":{"field":"top","type":"quantitative","title":"Percent Freezing (%)"},"text":{"field":"t"}}}
]}
],"spacing":30,"resolve":{"scale":{"fill":"independent","stroke":"independent","xOffset":"independent"},"legend":{"fill":"independent","stroke":"independent"}}}
],"spacing":51,"resolve":{"scale":{"fill":"independent","stroke":"independent","xOffset":"independent"},"legend":{"fill":"independent","stroke":"independent"}}}
],"spacing":30,"resolve":{"scale":{"fill":"independent","stroke":"independent","xOffset":"independent"},"legend":{"fill":"independent","stroke":"independent"}}},

{"vconcat":[
{"width":1,"height":1,"layer":[
{"data":{"values":[{"t":"D"}]},"mark":{"type":"text","align":"left","baseline":"middle","dx":-104,"dy":5,"fontSize":60,"fontWeight":"bold","color":"#231f20"},"encoding":{"text":{"field":"t","type":"nominal"}}},
{"data":{"values":[{"t":"Trained - 2X @ 12 wks; Retrained - 2X @ 36 WKs"}]},"mark":{"type":"text","align":"left","baseline":"middle","dx":-8,"dy":2,"fontSize":28,"color":"#ff8000"},"encoding":{"text":{"field":"t","type":"nominal"}}}]},
{"hconcat":[
{"width":302,"height":268,"title":{"text":"Learning","offset":-6},
"encoding":{"x":{"field":"f","type":"nominal","scale":{"domain":["0-60","60-120","120-180","180-240","240-300"],"paddingInner":0.14,"paddingOuter":0.07},"axis":{"title":"Time Frame (sec)","labelAngle":-45,"titlePadding":18}},
"xOffset":{"field":"g","type":"nominal","scale":{"domain":["WTm","ADm","WTf","ADf"],"paddingInner":0.38,"paddingOuter":0.19}}},
"layer":[
{"data":{"name":"dL"},"mark":{"type":"bar","strokeWidth":2},"encoding":{"y":{"field":"v","type":"quantitative","scale":{"domain":[0,50],"nice":false},"axis":{"values":[0,10,20,30,40,50],"title":"Time Spent Freezing (sec)","labelFontWeight":"bold","labelFontSize":14,"titlePadding":25}},
"fill":{"field":"g","type":"nominal","scale":{"domain":["WTm","ADm","WTf","ADf"],"range":["white","#0000ff","white","#ff8000"]},"legend":{"title":null,"offset":17,"labelExpr":"datum.label=='WTm'?'WT ♂':datum.label=='ADm'?'AD ♂':datum.label=='WTf'?'WT ♀':'AD ♀'"}},
"stroke":{"field":"g","type":"nominal","scale":{"domain":["WTm","ADm","WTf","ADf"],"range":["#0000ff","#0000ff","#ff8000","#ff8000"]},"legend":{"title":null,"offset":17,"labelExpr":"datum.label=='WTm'?'WT ♂':datum.label=='ADm'?'AD ♂':datum.label=='WTf'?'WT ♀':'AD ♀'"}}}},
{"data":{"name":"dL"},"mark":{"type":"rule","strokeWidth":2},"encoding":{"y":{"field":"v","type":"quantitative","title":"Time Spent Freezing (sec)"},"y2":{"field":"e"},"stroke":{"field":"g","type":"nominal","legend":{"title":null,"offset":17,"labelExpr":"datum.label=='WTm'?'WT ♂':datum.label=='ADm'?'AD ♂':datum.label=='WTf'?'WT ♀':'AD ♀'"}}}},
{"data":{"name":"dL"},"mark":{"type":"tick","filled":false,"size":5,"thickness":0.5,"strokeWidth":2},"encoding":{"y":{"field":"e","type":"quantitative","title":"Time Spent Freezing (sec)"},"stroke":{"field":"g","type":"nominal","legend":{"title":null,"offset":17,"labelExpr":"datum.label=='WTm'?'WT ♂':datum.label=='ADm'?'AD ♂':datum.label=='WTf'?'WT ♀':'AD ♀'"}}}},
{"data":{"name":"dLb"},"transform":[{"flatten":["g","y","o"]}],"mark":{"type":"line","color":"black","strokeWidth":2.5},"encoding":{"y":{"field":"y","type":"quantitative","title":"Time Spent Freezing (sec)"},"detail":[{"field":"f","type":"nominal"},{"field":"gw","type":"nominal"}],"order":{"field":"o","type":"quantitative"}}},
{"data":{"name":"dLb"},"mark":{"type":"text","dx":6.45,"dy":1,"baseline":"alphabetic","fontSize":13,"fontWeight":"bold"},"encoding":{"xOffset":{"field":"gw","type":"nominal"},"y":{"field":"top","type":"quantitative","title":"Time Spent Freezing (sec)"},"text":{"field":"t"}}}
]},
{"hconcat":[
{"width":178,"height":268,"title":{"text":["Cued","Memory"],"offset":-25},
"encoding":{"x":{"field":"f","type":"nominal","scale":{"domain":["24h"],"paddingInner":0,"paddingOuter":0.08},"axis":{"title":["Time Interval","(post training)"],"labelAngle":0,"labelFontSize":16}},
"xOffset":{"field":"g","type":"nominal","scale":{"domain":["WTm","ADm","WTf","ADf"],"paddingInner":0.37,"paddingOuter":0.185}}},
"layer":[
{"data":{"name":"dC"},"mark":{"type":"bar","strokeWidth":2.5},"encoding":{"y":{"field":"v","type":"quantitative","scale":{"domain":[0,60],"nice":false},"axis":{"values":[0,20,40,60],"title":"Percent Freezing (%)"}},
"fill":{"field":"g","type":"nominal","scale":{"domain":["WTm","ADm","WTf","ADf"],"range":["white","#0000ff","white","#ff8000"]},"legend":null},
"stroke":{"field":"g","type":"nominal","scale":{"domain":["WTm","ADm","WTf","ADf"],"range":["#0000ff","#0000ff","#ff8000","#ff8000"]},"legend":null}}},
{"data":{"name":"dC"},"mark":{"type":"rule","strokeWidth":2.5},"encoding":{"y":{"field":"v","type":"quantitative","title":"Percent Freezing (%)"},"y2":{"field":"e"},"stroke":{"field":"g","type":"nominal","legend":null}}},
{"data":{"name":"dC"},"mark":{"type":"tick","filled":false,"size":13,"thickness":0.5,"strokeWidth":2.5},"encoding":{"y":{"field":"e","type":"quantitative","title":"Percent Freezing (%)"},"stroke":{"field":"g","type":"nominal","legend":null}}},
{"data":{"name":"dCb"},"transform":[{"flatten":["g","y","o"]}],"mark":{"type":"line","color":"black","strokeWidth":3},"encoding":{"y":{"field":"y","type":"quantitative","title":"Percent Freezing (%)"},"detail":[{"field":"f","type":"nominal"},{"field":"gw","type":"nominal"}],"order":{"field":"o","type":"quantitative"}}},
{"data":{"name":"dCb"},"mark":{"type":"text","dx":19.2,"dy":1,"baseline":"alphabetic","fontSize":13,"fontWeight":"bold"},"encoding":{"xOffset":{"field":"gw","type":"nominal"},"y":{"field":"top","type":"quantitative","title":"Percent Freezing (%)"},"text":{"field":"t"}}}
]},
{"width":180,"height":265,"title":{"text":["Contextual","Memory"],"offset":-30.4},
"encoding":{"x":{"field":"f","type":"nominal","scale":{"domain":["24h","8 wks","16 wks"],"paddingInner":0.136,"paddingOuter":0.068},"axis":{"title":["Test Interval","(post training)"],"labelAngle":0}},
"xOffset":{"field":"g","type":"nominal","scale":{"domain":["WTm","ADm","WTf","ADf"],"paddingInner":0.43,"paddingOuter":0.215}}},
"layer":[
{"data":{"name":"dX"},"mark":{"type":"bar","strokeWidth":2},"encoding":{"y":{"field":"v","type":"quantitative","scale":{"domain":[0,100],"nice":false},"axis":{"values":[0,20,40,60,80,100],"title":"Percent Freezing (%)","labelFontSize":14}},
"fill":{"field":"g","type":"nominal","scale":{"domain":["WTm","ADm","WTf","ADf"],"range":["white","#0000ff","white","#ff8000"]},"legend":null},
"stroke":{"field":"g","type":"nominal","scale":{"domain":["WTm","ADm","WTf","ADf"],"range":["#0000ff","#0000ff","#ff8000","#ff8000"]},"legend":null}}},
{"data":{"name":"dX"},"mark":{"type":"rule","strokeWidth":2},"encoding":{"y":{"field":"v","type":"quantitative","title":"Percent Freezing (%)"},"y2":{"field":"e"},"stroke":{"field":"g","type":"nominal","legend":null}}},
{"data":{"name":"dX"},"mark":{"type":"tick","filled":false,"size":5,"thickness":0.5,"strokeWidth":2},"encoding":{"y":{"field":"e","type":"quantitative","title":"Percent Freezing (%)"},"stroke":{"field":"g","type":"nominal","legend":null}}},
{"data":{"name":"dXb"},"transform":[{"flatten":["g","y","o"]}],"mark":{"type":"line","color":"black","strokeWidth":2.5},"encoding":{"y":{"field":"y","type":"quantitative","title":"Percent Freezing (%)"},"detail":[{"field":"f","type":"nominal"},{"field":"gw","type":"nominal"}],"order":{"field":"o","type":"quantitative"}}},
{"data":{"name":"dXb"},"mark":{"type":"text","dx":6.5,"dy":1,"baseline":"alphabetic","fontSize":13,"fontWeight":"bold"},"encoding":{"xOffset":{"field":"gw","type":"nominal"},"y":{"field":"top","type":"quantitative","title":"Percent Freezing (%)"},"text":{"field":"t"}}}
]}
],"spacing":-3,"resolve":{"scale":{"fill":"independent","stroke":"independent","xOffset":"independent"},"legend":{"fill":"independent","stroke":"independent"}}}
],"spacing":50,"resolve":{"scale":{"fill":"independent","stroke":"independent","xOffset":"independent"},"legend":{"fill":"independent","stroke":"independent"}}}
],"spacing":18,"resolve":{"scale":{"fill":"independent","stroke":"independent","xOffset":"independent"},"legend":{"fill":"independent","stroke":"independent"}}}
],"spacing":54,"resolve":{"scale":{"fill":"independent","stroke":"independent","xOffset":"independent"},"legend":{"fill":"independent","stroke":"independent"}}}
],"spacing":5,"resolve":{"scale":{"fill":"independent","stroke":"independent","xOffset":"independent"},"legend":{"fill":"independent","stroke":"independent"}}},

{"vconcat":[
{"width":1,"height":1,"layer":[
{"data":{"values":[{"t":"E"}]},"mark":{"type":"text","align":"left","baseline":"middle","dx":-80,"fontSize":60,"fontWeight":"bold","color":"#231f20"},"encoding":{"text":{"field":"t","type":"nominal"}}},
{"data":{"values":[{"t":"Trained - 4X @ 36 WKs"}]},"mark":{"type":"text","align":"left","baseline":"middle","dx":18,"dy":-3,"fontSize":28,"color":"#ff8000"},"encoding":{"text":{"field":"t","type":"nominal"}}}]},
{"hconcat":[
{"width":361,"height":262,"title":{"text":"Learning","offset":-6.6},
"encoding":{"x":{"field":"f","type":"nominal","scale":{"domain":["0-60","60-120","120-180","180-240","240-300","300-360","360-420","420-480","480-540"],"paddingInner":0.17,"paddingOuter":0.085},"axis":{"title":"Time Frame (sec)","labelAngle":-45,"titlePadding":15}},
"xOffset":{"field":"g","type":"nominal","scale":{"domain":["WTm","ADm","WTf","ADf"],"paddingInner":0.4,"paddingOuter":0.2}}},
"layer":[
{"data":{"name":"eL"},"mark":{"type":"bar","strokeWidth":1.8},"encoding":{"y":{"field":"v","type":"quantitative","scale":{"domain":[0,60],"nice":false},"axis":{"values":[0,20,40,60],"title":"Time Spent Freezing (sec)","labelFontWeight":"bold","labelFontSize":14,"titlePadding":25}},
"fill":{"field":"g","type":"nominal","scale":{"domain":["WTm","ADm","WTf","ADf"],"range":["white","#0000ff","white","#ff8000"]},"legend":{"title":null,"offset":12,"symbolSize":400,"labelFontSize":14,"labelExpr":"datum.label=='WTm'?'WT ♂':datum.label=='ADm'?'AD ♂':datum.label=='WTf'?'WT ♀':'AD ♀'"}},
"stroke":{"field":"g","type":"nominal","scale":{"domain":["WTm","ADm","WTf","ADf"],"range":["#0000ff","#0000ff","#ff8000","#ff8000"]},"legend":{"title":null,"offset":12,"symbolSize":400,"labelFontSize":14,"labelExpr":"datum.label=='WTm'?'WT ♂':datum.label=='ADm'?'AD ♂':datum.label=='WTf'?'WT ♀':'AD ♀'"}}}},
{"data":{"name":"eL"},"mark":{"type":"rule","strokeWidth":1.8},"encoding":{"y":{"field":"v","type":"quantitative","title":"Time Spent Freezing (sec)"},"y2":{"field":"e"},"stroke":{"field":"g","type":"nominal","legend":{"title":null,"offset":12,"symbolSize":400,"labelFontSize":14,"labelExpr":"datum.label=='WTm'?'WT ♂':datum.label=='ADm'?'AD ♂':datum.label=='WTf'?'WT ♀':'AD ♀'"}}}},
{"data":{"name":"eL"},"mark":{"type":"tick","filled":false,"size":4,"thickness":0.5,"strokeWidth":1.8},"encoding":{"y":{"field":"e","type":"quantitative","title":"Time Spent Freezing (sec)"},"stroke":{"field":"g","type":"nominal","legend":{"title":null,"offset":12,"symbolSize":400,"labelFontSize":14,"labelExpr":"datum.label=='WTm'?'WT ♂':datum.label=='ADm'?'AD ♂':datum.label=='WTf'?'WT ♀':'AD ♀'"}}}},
{"data":{"name":"eLb"},"transform":[{"flatten":["g","y","o"]}],"mark":{"type":"line","color":"black","strokeWidth":2.5},"encoding":{"y":{"field":"y","type":"quantitative","title":"Time Spent Freezing (sec)"},"detail":[{"field":"f","type":"nominal"},{"field":"gw","type":"nominal"}],"order":{"field":"o","type":"quantitative"}}},
{"data":{"name":"eLb"},"mark":{"type":"text","dx":4.15,"dy":1,"baseline":"alphabetic","fontSize":12,"fontWeight":"bold"},"encoding":{"xOffset":{"field":"gw","type":"nominal"},"y":{"field":"top","type":"quantitative","title":"Time Spent Freezing (sec)"},"text":{"field":"t"}}}
]},
{"hconcat":[
{"width":154,"height":267,"title":{"text":["Cued","Memory"],"offset":-26.6},
"encoding":{"x":{"field":"f","type":"nominal","scale":{"domain":["24h"],"paddingInner":0,"paddingOuter":0.085},"axis":{"title":["Time Interval","(post training)"],"labelAngle":0,"labelFontSize":16}},
"xOffset":{"field":"g","type":"nominal","scale":{"domain":["WTm","ADm","WTf","ADf"],"paddingInner":0.36,"paddingOuter":0.18}}},
"layer":[
{"data":{"name":"eC"},"mark":{"type":"bar","strokeWidth":2.5},"encoding":{"y":{"field":"v","type":"quantitative","scale":{"domain":[0,60],"nice":false},"axis":{"values":[0,20,40,60],"title":"Percent Freezing (%)"}},
"fill":{"field":"g","type":"nominal","scale":{"domain":["WTm","ADm","WTf","ADf"],"range":["white","#0000ff","white","#ff8000"]},"legend":null},
"stroke":{"field":"g","type":"nominal","scale":{"domain":["WTm","ADm","WTf","ADf"],"range":["#0000ff","#0000ff","#ff8000","#ff8000"]},"legend":null}}},
{"data":{"name":"eC"},"mark":{"type":"rule","strokeWidth":2.5},"encoding":{"y":{"field":"v","type":"quantitative","title":"Percent Freezing (%)"},"y2":{"field":"e"},"stroke":{"field":"g","type":"nominal","legend":null}}},
{"data":{"name":"eC"},"mark":{"type":"tick","filled":false,"size":12,"thickness":0.5,"strokeWidth":2.5},"encoding":{"y":{"field":"e","type":"quantitative","title":"Percent Freezing (%)"},"stroke":{"field":"g","type":"nominal","legend":null}}},
{"data":{"name":"eCb"},"transform":[{"flatten":["g","y","o"]}],"mark":{"type":"line","color":"black","strokeWidth":3},"encoding":{"y":{"field":"y","type":"quantitative","title":"Percent Freezing (%)"},"detail":[{"field":"f","type":"nominal"},{"field":"gw","type":"nominal"}],"order":{"field":"o","type":"quantitative"}}},
{"data":{"name":"eCb"},"mark":{"type":"text","dx":16.5,"dy":1,"baseline":"alphabetic","fontSize":13,"fontWeight":"bold"},"encoding":{"xOffset":{"field":"gw","type":"nominal"},"y":{"field":"top","type":"quantitative","title":"Percent Freezing (%)"},"text":{"field":"t"}}}
]},
{"width":157,"height":267,"title":{"text":["Contextual","Memory"],"offset":-23.6},
"encoding":{"x":{"field":"f","type":"nominal","scale":{"domain":["24h","8 wks","16 wks"],"paddingInner":0.12,"paddingOuter":0.06},"axis":{"title":["Test Interval","(post training)"],"labelAngle":0}},
"xOffset":{"field":"g","type":"nominal","scale":{"domain":["WTm","ADm","WTf","ADf"],"paddingInner":0.46,"paddingOuter":0.23}}},
"layer":[
{"data":{"name":"eX"},"mark":{"type":"bar","strokeWidth":2},"encoding":{"y":{"field":"v","type":"quantitative","scale":{"domain":[0,100],"nice":false},"axis":{"values":[0,20,40,60,80,100],"title":"Percent Freezing (%)","labelFontSize":14}},
"fill":{"field":"g","type":"nominal","scale":{"domain":["WTm","ADm","WTf","ADf"],"range":["white","#0000ff","white","#ff8000"]},"legend":null},
"stroke":{"field":"g","type":"nominal","scale":{"domain":["WTm","ADm","WTf","ADf"],"range":["#0000ff","#0000ff","#ff8000","#ff8000"]},"legend":null}}},
{"data":{"name":"eX"},"mark":{"type":"rule","strokeWidth":2},"encoding":{"y":{"field":"v","type":"quantitative","title":"Percent Freezing (%)"},"y2":{"field":"e"},"stroke":{"field":"g","type":"nominal","legend":null}}},
{"data":{"name":"eX"},"mark":{"type":"tick","filled":false,"size":4,"thickness":0.5,"strokeWidth":2},"encoding":{"y":{"field":"e","type":"quantitative","title":"Percent Freezing (%)"},"stroke":{"field":"g","type":"nominal","legend":null}}},
{"data":{"name":"eXb"},"transform":[{"flatten":["g","y","o"]}],"mark":{"type":"line","color":"black","strokeWidth":2.5},"encoding":{"y":{"field":"y","type":"quantitative","title":"Percent Freezing (%)"},"detail":[{"field":"f","type":"nominal"},{"field":"gw","type":"nominal"}],"order":{"field":"o","type":"quantitative"}}},
{"data":{"name":"eXb"},"mark":{"type":"text","dx":5.75,"dy":1,"baseline":"alphabetic","fontSize":13,"fontWeight":"bold"},"encoding":{"xOffset":{"field":"gw","type":"nominal"},"y":{"field":"top","type":"quantitative","title":"Percent Freezing (%)"},"text":{"field":"t"}}}
]}
],"spacing":59,"resolve":{"scale":{"fill":"independent","stroke":"independent","xOffset":"independent"},"legend":{"fill":"independent","stroke":"independent"}}}
],"spacing":181,"resolve":{"scale":{"fill":"independent","stroke":"independent","xOffset":"independent"},"legend":{"fill":"independent","stroke":"independent"}}}
],"spacing":24.7,"resolve":{"scale":{"fill":"independent","stroke":"independent","xOffset":"independent"},"legend":{"fill":"independent","stroke":"independent"}}}
],
"spacing":42,
"resolve":{"scale":{"fill":"independent","stroke":"independent","xOffset":"independent"},"legend":{"fill":"independent","stroke":"independent"}},
"config":{
"view":{"stroke":null},
"font":"Liberation Sans",
"axis":{"domainColor":"black","domainWidth":2.5,"tickColor":"black","tickWidth":2.5,"tickSize":7,"labelColor":"black","titleColor":"black","grid":false,"labelFont":"Liberation Sans","titleFont":"Liberation Sans","titleFontWeight":"normal","labelFontSize":15,"titleFontSize":18,"labelPadding":3,"titlePadding":16,"titleLineHeight":23},
"axisX":{"labelPadding":5,"titlePadding":10},
"title":{"font":"Liberation Sans","fontSize":21,"fontWeight":"bold","color":"black","lineHeight":24,"frame":"group","anchor":"middle"},
"legend":{"orient":"top-left","direction":"horizontal","columns":2,"symbolType":"M-1,-0.55H1V0.55H-1Z","symbolSize":576,"symbolStrokeWidth":2,"labelFontSize":16,"labelOffset":10,"columnPadding":8,"rowPadding":5,"padding":0,"labelFont":"DejaVu Sans","labelColor":"black","labelLimit":300},
"text":{"font":"Liberation Sans"}
}
}
